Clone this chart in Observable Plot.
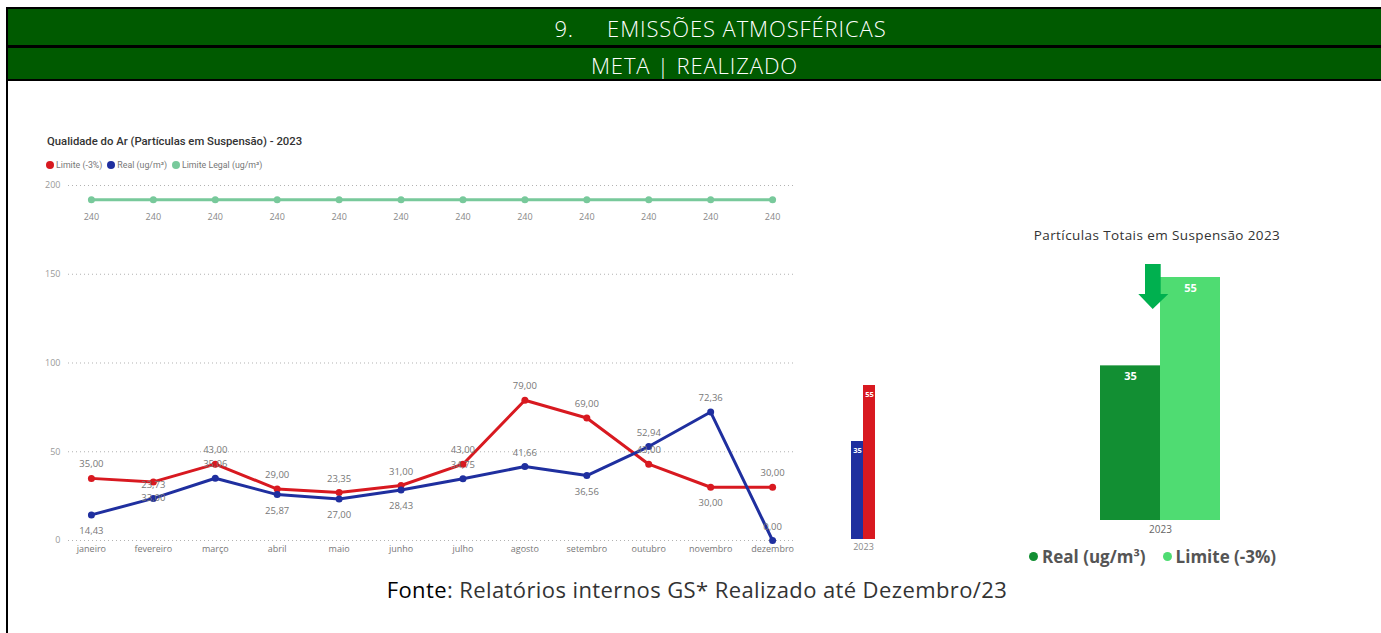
<!DOCTYPE html>
<html><head><meta charset="utf-8">
<script src="https://cdn.jsdelivr.net/npm/d3@7"></script>
<script src="https://cdn.jsdelivr.net/npm/@observablehq/plot@0.6"></script>
<style>
body{margin:0;width:1381px;height:633px;background:#fff;position:relative;overflow:hidden;font-family:"Open Sans",sans-serif}
.abs{position:absolute}
.bar{background:#000}
.hdr{background:#005a00;color:#fff;font-weight:300;font-size:22px;letter-spacing:0.9px;display:flex;align-items:center;justify-content:center;white-space:pre}
.leg{display:flex;align-items:center;white-space:nowrap}
.dot{display:inline-block;border-radius:50%}
</style></head><body>
<div class="abs bar" style="left:6px;top:7px;width:2px;height:626px"></div>
<div class="abs bar" style="left:6px;top:7px;width:1375px;height:2px"></div>
<div class="abs hdr" style="left:8px;top:9px;width:1373px;height:37px;padding-left:52px;box-sizing:border-box">9.     EMISSÕES ATMOSFÉRICAS</div>
<div class="abs bar" style="left:6px;top:45px;width:1375px;height:3px"></div>
<div class="abs hdr" style="left:8px;top:48px;width:1373px;height:33px">META | REALIZADO</div>
<div class="abs bar" style="left:6px;top:79px;width:1375px;height:2px"></div>

<div class="abs" id="ltitle" style="left:47px;top:135px;font-family:Roboto,sans-serif;font-weight:500;font-size:11.3px;color:#333;white-space:nowrap">Qualidade do Ar (Partículas em Suspensão) - 2023</div>
<div class="abs leg" id="lleg" style="left:46px;top:159px;font-family:Roboto,sans-serif;font-size:8.8px;color:#777;height:12px"></div>
<div class="abs" id="main" style="left:0;top:175px"></div>
<div class="abs" id="legal" style="left:0;top:175px"></div>
<div class="abs" id="small" style="left:845px;top:370px"></div>

<div class="abs" style="left:1017px;top:226px;width:280px;text-align:center;font-size:13.5px;letter-spacing:0.4px;color:#333;white-space:nowrap">Partículas Totais em Suspensão 2023</div>
<div class="abs" id="right" style="left:1090px;top:262px"></div>
<svg class="abs" style="left:1136px;top:263px" width="36" height="48"><polygon points="9,1 24.7,1 24.7,31 32.3,31 16.7,46 2.3,31 9,31" fill="#00b04f"/></svg>
<div class="abs leg" id="rleg" style="left:1029px;top:544px;font-weight:700;font-size:17px;color:#555;height:24px"></div>

<div class="abs" style="left:0;width:1394px;top:574px;text-align:center;font-size:22px;letter-spacing:0.4px;color:#333;white-space:nowrap"><span style="color:#000">Fonte</span>: Relatórios internos GS* Realizado até Dezembro/23</div>

<script>
// ---- data ----
const months = ["janeiro","fevereiro","março","abril","maio","junho","julho","agosto","setembro","outubro","novembro","dezembro"];
const limite = [35, 33, 43, 29, 27, 31, 43, 79, 69, 43, 30, 30];
const real = [14.43, 23.73, 35.06, 25.87, 23.35, 28.43, 34.75, 41.66, 36.56, 52.94, 72.36, 0];
const limiteLegal = [240, 240, 240, 240, 240, 240, 240, 240, 240, 240, 240, 240];
const limiteLabels = ["35,00","23,73","43,00","29,00","23,35","31,00","43,00","79,00","69,00","43,00","30,00","30,00"];
const realLabels = ["14,43","33,00","35,06","25,87","27,00","28,43","34,75","41,66","36,56","52,94","72,36","0,00"];
const legalLabels = ["240","240","240","240","240","240","240","240","240","240","240","240"];
const yTicks = [0, 50, 100, 150, 200];
const seriesNames = ["Limite (-3%)", "Real (ug/m³)", "Limite Legal (ug/m³)"];
const totalYear = ["2023"];
const totalSeries = ["Real (ug/m³)", "Limite (-3%)"];
const totalValues = [35, 55];

// ---- colors ----
const RED = "#d81920", BLUE = "#1f2f9f", LEGAL = "#78c99b";
const DKG = "#128f33", LTG = "#4fdc72";

// legend (left)
const lleg = document.getElementById("lleg");
[[seriesNames[0], RED], [seriesNames[1], BLUE], [seriesNames[2], LEGAL]].forEach(([t, c]) => {
  const s = document.createElement("span");
  s.className = "leg"; s.style.marginRight = "5px";
  s.innerHTML = `<span class="dot" style="width:8px;height:8px;background:${c};margin-right:2px"></span>${t}`;
  lleg.appendChild(s);
});

// label placement (Power BI-like)
const redPlace = {"fevereiro":"on", "novembro":"below"};
const bluePlace = {"janeiro":"below","fevereiro":"on2","abril":"below","maio":"below","junho":"below","setembro":"below"};

const rows = months.map((m, i) => ({month: m, limite: limite[i], real: real[i], legal: limiteLegal[i],
  lLab: limiteLabels[i], rLab: realLabels[i], gLab: legalLabels[i]}));
const labelRows = [
  ...rows.map(d => ({month: d.month, y: d.limite, text: d.lLab, place: redPlace[d.month] || "above"})),
  ...rows.map(d => ({month: d.month, y: d.real, text: d.rLab, place: bluePlace[d.month] || "above"}))
];
const dys = {above: -14, below: 16, on: 3, on2: 0};

const W = 800, H = 385;
const common = {width: W, height: H, marginLeft: 68, marginRight: 5, marginTop: 10, marginBottom: 20,
  style: {fontFamily: "Open Sans, sans-serif", fontSize: "9px", color: "#888", background: "transparent", overflow: "visible"}};
const xOpts = {type: "point", domain: months, padding: 0.37, round: false, label: null};

const main = Plot.plot({
  ...common,
  x: {...xOpts, tickSize: 0, tickPadding: 5},
  y: {domain: [0, 200], ticks: yTicks, label: null, tickSize: 0, tickPadding: 8},
  marks: [
    Plot.gridY(yTicks, {stroke: "#aaa", strokeOpacity: 0.9, strokeDasharray: "1,3"}),
    Plot.axisY(yTicks, {tickSize: 0, tickPadding: 8, fill: "#999", fontSize: 9}),
    Plot.axisX({tickSize: 0, tickPadding: 5, fill: "#777", fontSize: 9}),
    Plot.line(rows, {x: "month", y: "limite", stroke: RED, strokeWidth: 3}),
    Plot.dot(rows, {x: "month", y: "limite", fill: RED, r: 3.5}),
    Plot.line(rows, {x: "month", y: "real", stroke: BLUE, strokeWidth: 3}),
    Plot.dot(rows, {x: "month", y: "real", fill: BLUE, r: 3.5}),
    ...Object.entries(dys).map(([p, dy]) =>
      Plot.text(labelRows.filter(d => d.place === p), {x: "month", y: "y", text: "text", dy, fill: "#777", fontSize: 9.5}))
  ]
});
document.getElementById("main").appendChild(main);

// secondary axis for Limite Legal
const legal = Plot.plot({
  ...common,
  x: {...xOpts, axis: null},
  y: {domain: [0, 250], axis: null},
  marks: [
    Plot.line(rows, {x: "month", y: "legal", stroke: LEGAL, strokeWidth: 3}),
    Plot.dot(rows, {x: "month", y: "legal", fill: LEGAL, r: 3.5}),
    Plot.text(rows, {x: "month", y: "legal", text: "gLab", dy: 17, fill: "#888", fontSize: 9})
  ]
});
document.getElementById("legal").appendChild(legal);

// totals
const totals = totalSeries.map((s, i) => ({year: totalYear[0], series: s, value: totalValues[i]}));

const small = Plot.plot({
  width: 35, height: 189, marginLeft: 6, marginRight: 5, marginTop: 15, marginBottom: 20,
  style: {fontFamily: "Open Sans, sans-serif", fontSize: "9px", color: "#888", background: "transparent", overflow: "visible"},
  fx: {label: null, axis: "bottom", tickSize: 0, tickPadding: 4, padding: 0, round: false},
  x: {domain: totalSeries, padding: 0, round: false, axis: null},
  y: {axis: null},
  color: {domain: totalSeries, range: [BLUE, RED]},
  marks: [
    Plot.barY(totals, {fx: "year", x: "series", y: "value", fill: "series"}),
    Plot.text(totals, {fx: "year", x: "series", y: "value", text: d => String(d.value), dy: 9, fill: "#fff", fontWeight: "bold", fontSize: 7.5})
  ]
});
document.getElementById("small").appendChild(small);

const right = Plot.plot({
  width: 140, height: 278, marginLeft: 10, marginRight: 10, marginTop: 15, marginBottom: 20,
  style: {fontFamily: "Open Sans, sans-serif", fontSize: "10px", color: "#666", background: "transparent", overflow: "visible"},
  fx: {label: null, axis: "bottom", tickSize: 0, tickPadding: 5, padding: 0, round: false},
  x: {domain: totalSeries, padding: 0, round: false, axis: null},
  y: {axis: null},
  color: {domain: totalSeries, range: [DKG, LTG]},
  marks: [
    Plot.barY(totals, {fx: "year", x: "series", y: "value", fill: "series"}),
    Plot.text(totals, {fx: "year", x: "series", y: "value", text: d => String(d.value), dy: 11, fill: "#fff", fontWeight: "bold", fontSize: 11})
  ]
});
document.getElementById("right").appendChild(right);

// legend (right)
const rleg = document.getElementById("rleg");
[[totalSeries[0], DKG], [totalSeries[1], LTG]].forEach(([t, c]) => {
  const s = document.createElement("span");
  s.className = "leg"; s.style.marginRight = "17px";
  s.innerHTML = `<span class="dot" style="width:9px;height:9px;background:${c};margin-right:4px"></span>${t}`;
  rleg.appendChild(s);
});
</script>
</body></html>
